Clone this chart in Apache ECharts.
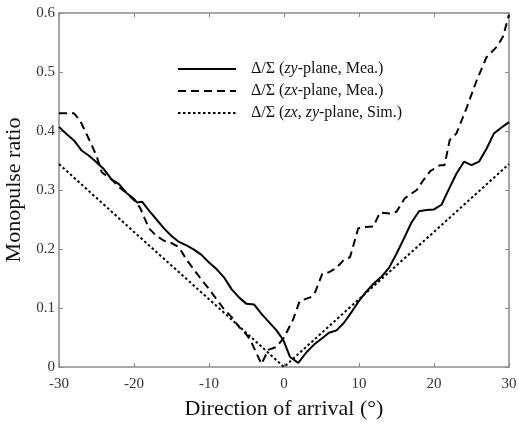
<!DOCTYPE html>
<html>
<head>
<meta charset="utf-8">
<script src="https://cdn.jsdelivr.net/npm/echarts@6/dist/echarts.min.js"></script>
<style>
  html, body { margin: 0; padding: 0; background: #fff; }
  #chart { width: 519px; height: 428px; }
</style>
</head>
<body>
<div id="chart"></div>
<script>
// zy-plane, measured
const zyAngles = [-30, -29, -28, -27, -26, -25, -24, -23, -22, -21, -20, -19.6, -18.9, -18, -17, -16, -15, -14, -13, -12, -11, -10, -9, -8, -7, -6, -5, -4, -3, -2, -1, -0.1, 0.8, 1.9, 3, 4, 5, 6, 7, 8, 9, 10, 11, 12, 13, 14, 15, 16, 17, 18, 19, 20, 21, 22, 23, 24, 25, 26, 27, 28, 29, 30];
const zyValues = [0.407, 0.395, 0.384, 0.367, 0.358, 0.347, 0.335, 0.318, 0.31, 0.295, 0.285, 0.279, 0.28, 0.265, 0.25, 0.235, 0.222, 0.212, 0.206, 0.199, 0.19, 0.177, 0.166, 0.152, 0.132, 0.118, 0.107, 0.106, 0.09, 0.076, 0.062, 0.046, 0.017, 0.007, 0.025, 0.038, 0.048, 0.058, 0.062, 0.075, 0.093, 0.112, 0.128, 0.142, 0.153, 0.168, 0.192, 0.218, 0.245, 0.264, 0.266, 0.267, 0.275, 0.302, 0.328, 0.348, 0.342, 0.348, 0.37, 0.396, 0.406, 0.415];

// zx-plane, measured
const zxAngles = [-30, -28, -27.2, -26, -25, -24.3, -23, -22, -21, -20, -19.2, -18, -17, -16, -15, -14, -13, -12, -11, -10, -9, -8, -7, -6, -5, -4.5, -3, -2.1, -1, 0, 1.2, 2.1, 3.5, 4.1, 5.1, 5.9, 7, 8, 8.8, 9.9, 10.6, 11.9, 12.8, 14.1, 15, 16.1, 17.7, 18.6, 19.5, 20.8, 21.4, 22.1, 23, 24.4, 25.7, 27, 28.4, 29.2, 30];
const zxValues = [0.43, 0.43, 0.418, 0.386, 0.358, 0.33, 0.318, 0.305, 0.295, 0.283, 0.27, 0.235, 0.222, 0.214, 0.21, 0.203, 0.182, 0.165, 0.148, 0.132, 0.115, 0.098, 0.085, 0.068, 0.055, 0.046, 0.005, 0.029, 0.034, 0.05, 0.08, 0.112, 0.118, 0.125, 0.158, 0.16, 0.168, 0.182, 0.186, 0.235, 0.237, 0.238, 0.262, 0.26, 0.263, 0.286, 0.3, 0.317, 0.332, 0.342, 0.342, 0.385, 0.396, 0.441, 0.486, 0.525, 0.543, 0.56, 0.597];

// zx, zy-plane, simulated
const simAngles = [-30, -20, -10, 0, 10, 20, 30];
const simValues = [0.344, 0.229, 0.115, 0, 0.115, 0.229, 0.344];

const xTicks = [-30, -20, -10, 0, 10, 20, 30];
const yTicks = [0, 0.1, 0.2, 0.3, 0.4, 0.5, 0.6];

const seriesNames = ['zy', 'zx', 'sim'];

const pair = (xs, ys) => xs.map((x, i) => [x, ys[i]]);

const serif = '"Liberation Serif", "DejaVu Serif", serif';
const boxColor = '#8a8a8a';

const chart = echarts.init(document.getElementById('chart'));

const lineSeries = (name, data, type, width) => ({
  name,
  type: 'line',
  data,
  symbol: 'none',
  lineStyle: { color: '#000', width, type },
  itemStyle: { color: '#000' },
  animation: false
});

const boxAxis = {
  axisLine: { show: true, onZero: false, lineStyle: { color: boxColor, width: 1.5 } },
  axisTick: { show: true, inside: true, length: 4, lineStyle: { color: boxColor } },
  splitLine: { show: false }
};

chart.setOption({
  backgroundColor: '#fff',
  grid: { left: 59, right: 10, top: 13, bottom: 61, outerBoundsMode: 'none', containLabel: false },
  legend: {
    orient: 'vertical',
    left: 172,
    top: 56,
    padding: 5,
    itemWidth: 58,
    itemHeight: 14,
    itemGap: 6,
    data: seriesNames,
    itemStyle: { opacity: 0 },
    formatter: (name) => {
      if (name === 'zy') return '{a|Δ/Σ (}{i|zy}{a|-plane, Mea.)}';
      if (name === 'zx') return '{a|Δ/Σ (}{i|zx}{a|-plane, Mea.)}';
      return '{a|Δ/Σ (}{i|zx}{a|, }{i|zy}{a|-plane, Sim.)}';
    },
    textStyle: {
      fontFamily: serif,
      fontSize: 16,
      padding: [0, 0, 0, 10],
      rich: {
        a: { fontFamily: serif, fontSize: 16, color: '#111' },
        i: { fontFamily: serif, fontSize: 16, color: '#111', fontStyle: 'italic' }
      }
    }
  },
  xAxis: [
    Object.assign({}, boxAxis, {
      type: 'value',
      min: -30,
      max: 30,
      interval: 10,
      name: 'Direction of arrival (°)',
      nameLocation: 'middle',
      nameGap: 31,
      nameTextStyle: { fontFamily: serif, fontSize: 22, color: '#111' },
      axisLabel: {
        fontFamily: serif, fontSize: 15, color: '#333', margin: 10,
        formatter: (v) => xTicks.includes(v) ? String(v) : ''
      }
    }),
    Object.assign({}, boxAxis, {
      type: 'value',
      position: 'top',
      min: -30,
      max: 30,
      interval: 10,
      axisLabel: { show: false }
    })
  ],
  yAxis: [
    Object.assign({}, boxAxis, {
      type: 'value',
      min: 0,
      max: 0.6,
      interval: 0.1,
      name: 'Monopulse ratio',
      nameLocation: 'middle',
      nameGap: 28,
      nameTextStyle: { fontFamily: serif, fontSize: 22, color: '#111' },
      axisLabel: {
        fontFamily: serif, fontSize: 15, color: '#333', margin: 4,
        formatter: (v) => {
          const t = yTicks.find((y) => Math.abs(y - v) < 1e-6);
          return t === undefined ? '' : String(t);
        }
      }
    }),
    Object.assign({}, boxAxis, {
      type: 'value',
      position: 'right',
      min: 0,
      max: 0.6,
      interval: 0.1,
      axisLabel: { show: false }
    })
  ],
  series: [
    lineSeries('zy', pair(zyAngles, zyValues), 'solid', 2),
    lineSeries('zx', pair(zxAngles, zxValues), [8, 5], 2),
    lineSeries('sim', pair(simAngles, simValues), [2.5, 2.5], 2)
  ]
});
</script>
</body>
</html>
